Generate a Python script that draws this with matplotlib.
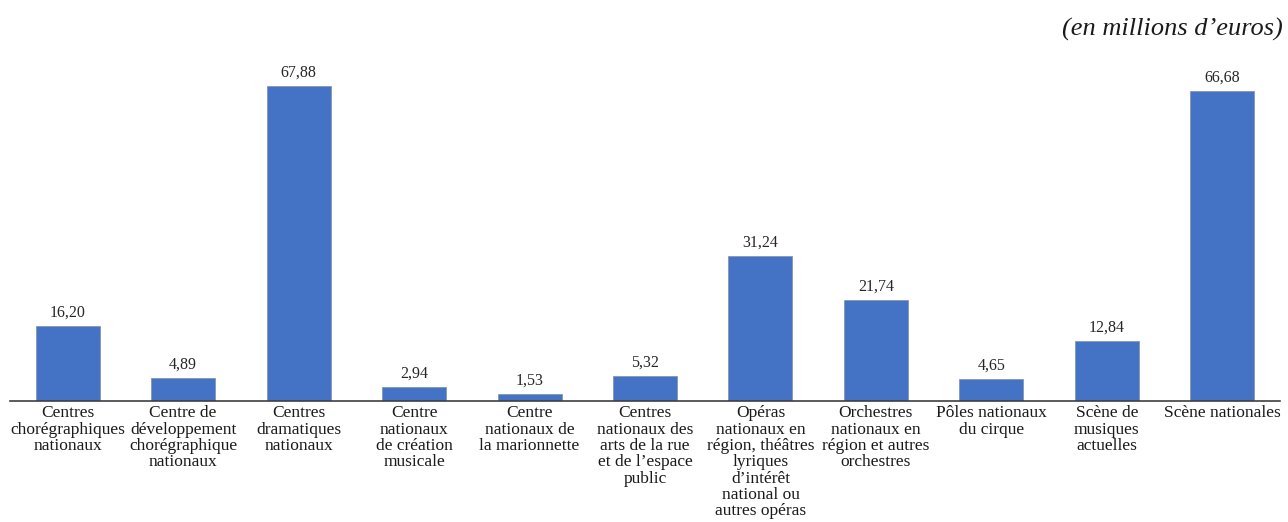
import matplotlib
matplotlib.use("Agg")
import matplotlib.pyplot as plt
import numpy as np

# Crédits par label (en millions d'euros)
categories = [
    "Centres\nchorégraphiques\nnationaux",
    "Centre de\ndéveloppement\nchorégraphique\nnationaux",
    "Centres\ndramatiques\nnationaux",
    "Centre\nnationaux\nde création\nmusicale",
    "Centre\nnationaux de\nla marionnette",
    "Centres\nnationaux des\narts de la rue\net de l\u2019espace\npublic",
    "Opéras\nnationaux en\nrégion, théâtres\nlyriques\nd\u2019intérêt\nnational ou\nautres opéras",
    "Orchestres\nnationaux en\nrégion et autres\norchestres",
    "Pôles nationaux\ndu cirque",
    "Scène de\nmusiques\nactuelles",
    "Scène nationales",
]
values = [16.20, 4.89, 67.88, 2.94, 1.53, 5.32, 31.24, 21.74, 4.65, 12.84, 66.68]

plt.rcParams['font.family'] = ['Liberation Serif', 'DejaVu Serif']

fig = plt.figure(figsize=(12.88, 5.22), dpi=100)
ax = fig.add_axes([10 / 1288, 121 / 522, 1270 / 1288, 339 / 522])

x = np.arange(len(values))
ax.bar(x, values, width=0.555, color='#4472C4', edgecolor='#8497B0', linewidth=0.6)

for xi, v in zip(x, values):
    ax.text(xi, v + 1.2, f"{v:.2f}".replace(".", ","), ha='center', va='bottom',
            fontsize=11.5, color='#262626')

ax.set_xlim(-0.5, len(values) - 0.5)
ax.set_ylim(0, 73)
ax.set_xticks(x)
ax.set_xticklabels(categories, fontsize=12.5, color='#1a1a1a', linespacing=1.03)
ax.tick_params(axis='x', length=0, pad=3)
ax.set_yticks([])
for side in ['top', 'right', 'left']:
    ax.spines[side].set_visible(False)
ax.spines['bottom'].set_color('#404040')
ax.spines['bottom'].set_linewidth(1.2)

fig.text(1283 / 1288, 1 - 29 / 522, "(en millions d\u2019euros)", ha='right', va='center',
         fontsize=19, style='italic', color='#1a1a1a')

fig.savefig("out.png", dpi=100)
